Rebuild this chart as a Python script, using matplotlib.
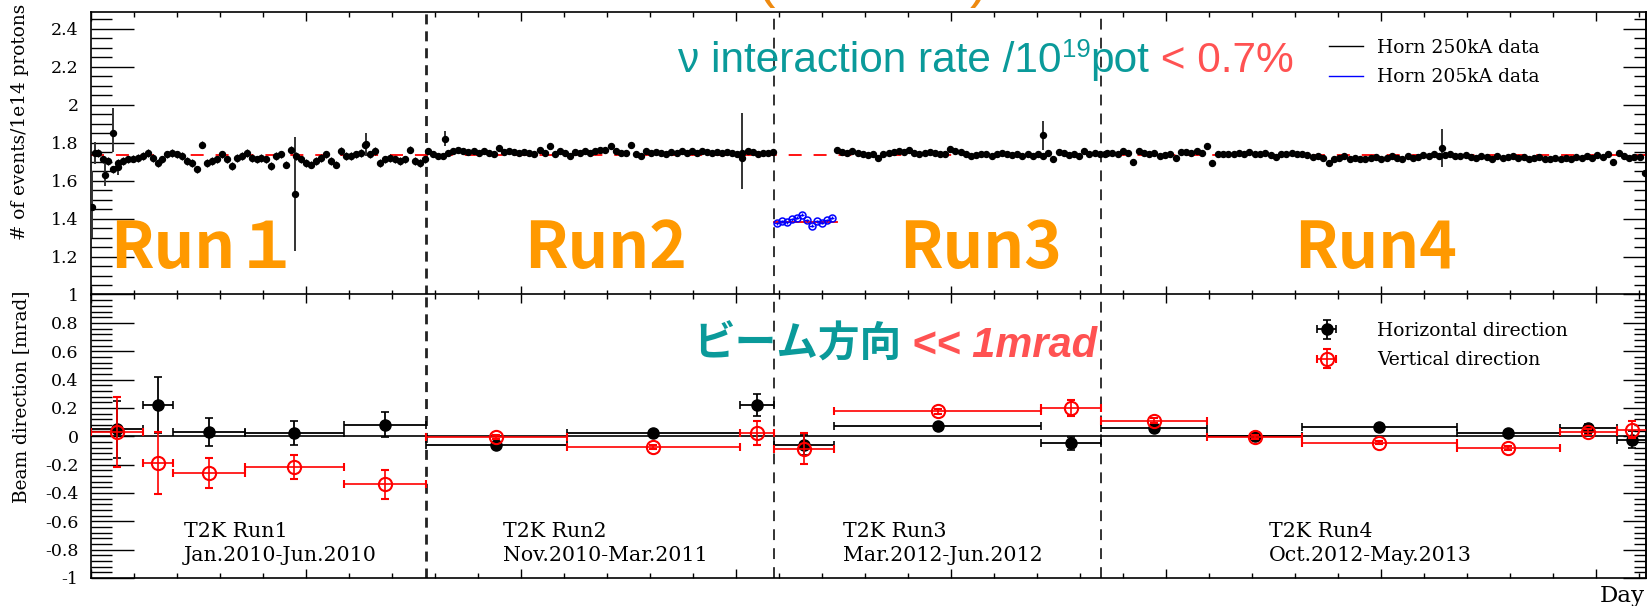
import numpy as np
import matplotlib
matplotlib.use("Agg")
import matplotlib.pyplot as plt
from matplotlib.ticker import MultipleLocator, FuncFormatter
from matplotlib.lines import Line2D

plt.rcParams['axes.unicode_minus'] = False
plt.rcParams['font.family'] = 'DejaVu Serif'

# ---------------- data ----------------
day_max = 723.3
run_bounds = [155.8, 317.7, 469.8]          # days of run boundaries
mean_rate_250 = 1.732
mean_rate_205 = 1.384

run1_days = (3.3, 155.3)
run1_rate = [1.746, 1.711, 1.702, 1.658, 1.693, 1.702, 1.711, 1.715, 1.719, 1.728, 1.746, 1.719,
             1.693, 1.711, 1.737, 1.746, 1.737, 1.728, 1.702, 1.693, 1.658, 1.789, 1.693, 1.702,
             1.711, 1.737, 1.711, 1.675, 1.719, 1.728, 1.746, 1.719, 1.711, 1.719, 1.711, 1.675,
             1.728, 1.737, 1.684, 1.763, 1.728, 1.711, 1.693, 1.684, 1.702, 1.719, 1.737, 1.702,
             1.684, 1.754, 1.728, 1.728, 1.737, 1.746, 1.789, 1.737, 1.754, 1.693, 1.711, 1.719,
             1.711, 1.702, 1.711, 1.763, 1.702, 1.693, 1.711]
run2_days = (156.7, 317.2)
run2_rate = [1.754, 1.737, 1.728, 1.728, 1.746, 1.754, 1.763, 1.754, 1.749, 1.754, 1.746, 1.754,
             1.746, 1.737, 1.772, 1.749, 1.754, 1.749, 1.746, 1.749, 1.746, 1.737, 1.763, 1.746,
             1.781, 1.737, 1.754, 1.746, 1.728, 1.749, 1.746, 1.754, 1.746, 1.754, 1.760, 1.763,
             1.781, 1.754, 1.746, 1.746, 1.789, 1.737, 1.728, 1.754, 1.746, 1.749, 1.746, 1.737,
             1.749, 1.746, 1.754, 1.746, 1.754, 1.746, 1.754, 1.749, 1.746, 1.749, 1.746, 1.749,
             1.746, 1.737, 1.719, 1.754, 1.749, 1.737, 1.746, 1.746, 1.749]
run3_days = (347.0, 471.6)
run3_rate = [1.763, 1.749, 1.746, 1.754, 1.746, 1.737, 1.732, 1.737, 1.719, 1.737, 1.746, 1.749,
             1.754, 1.749, 1.760, 1.746, 1.737, 1.746, 1.749, 1.746, 1.737, 1.742, 1.767, 1.754,
             1.749, 1.742, 1.728, 1.732, 1.737, 1.742, 1.728, 1.737, 1.746, 1.742, 1.732, 1.737,
             1.728, 1.737, 1.728, 1.737, 1.728, 1.746, 1.714, 1.749, 1.746, 1.732, 1.737, 1.728,
             1.754, 1.737, 1.746, 1.737, 1.742]
run4_days = (472.6, 722.8)
run4_rate = [1.746, 1.746, 1.737, 1.754, 1.746, 1.696, 1.754, 1.746, 1.737, 1.746, 1.728, 1.732,
             1.742, 1.719, 1.749, 1.749, 1.746, 1.754, 1.746, 1.784, 1.693, 1.737, 1.737, 1.742,
             1.737, 1.746, 1.737, 1.749, 1.737, 1.742, 1.746, 1.732, 1.725, 1.737, 1.742, 1.746,
             1.737, 1.742, 1.732, 1.725, 1.728, 1.719, 1.693, 1.711, 1.719, 1.728, 1.714, 1.719,
             1.711, 1.714, 1.719, 1.725, 1.714, 1.719, 1.728, 1.719, 1.714, 1.728, 1.719, 1.725,
             1.732, 1.728, 1.737, 1.728, 1.732, 1.737, 1.728, 1.728, 1.732, 1.725, 1.719, 1.728,
             1.725, 1.714, 1.728, 1.719, 1.725, 1.728, 1.719, 1.725, 1.714, 1.719, 1.725, 1.714,
             1.711, 1.719, 1.711, 1.719, 1.714, 1.725, 1.719, 1.728, 1.719, 1.732, 1.725, 1.737,
             1.696, 1.746, 1.728, 1.719, 1.725, 1.723, 1.640]
run_rate_err = [0.02, 0.01, 0.008, 0.008]

big_err_day = [0.5, 1.9, 6.5, 10.2, 12.6, 94.9, 127.9, 164.7, 302.8, 442.8, 628.4]
big_err_rate = [1.46, 1.745, 1.63, 1.85, 1.67, 1.53, 1.79, 1.82, 1.745, 1.84, 1.77]
big_err_lo = [0.16, 0.06, 0.06, 0.10, 0.04, 0.30, 0.06, 0.04, 0.19, 0.08, 0.10]
big_err_hi = [0.19, 0.06, 0.06, 0.13, 0.04, 0.30, 0.06, 0.04, 0.21, 0.075, 0.10]

horn205_days = (319.0, 344.6)
horn205_rate = [1.374, 1.386, 1.381, 1.395, 1.404, 1.421, 1.391, 1.363, 1.386, 1.377, 1.391, 1.404]

# beam direction (bins in days)
bin_edges = [0, 24.0, 38.1, 71.6, 117.7, 155.8, 221.4, 301.7, 317.7, 345.6, 441.9, 469.8,
             519.3, 563.3, 635.3, 683.3, 709.8, 724.0]
horiz = [0.05, 0.22, 0.03, 0.02, 0.08, -0.065, 0.02, 0.22, -0.06, 0.07, -0.05, 0.06,
         0.0, 0.065, 0.025, 0.055, -0.025]
horiz_err = [0.2, 0.2, 0.1, 0.085, 0.088, 0.012, 0.01, 0.08, 0.07, 0.01, 0.045, 0.012,
             0.01, 0.01, 0.01, 0.03, 0.06]
vert = [0.03, -0.19, -0.26, -0.215, -0.34, -0.005, -0.075, 0.02, -0.087, 0.175, 0.2, 0.11,
        -0.005, -0.045, -0.083, 0.03, 0.047]
vert_err = [0.245, 0.22, 0.105, 0.085, 0.1, 0.015, 0.012, 0.085, 0.11, 0.015, 0.058, 0.02,
            0.012, 0.012, 0.012, 0.02, 0.06]

run_names = ["Run１", "Run2", "Run3", "Run4"]
period_labels = ["T2K Run1", "T2K Run2", "T2K Run3", "T2K Run4"]
period_dates = ["Jan.2010-Jun.2010", "Nov.2010-Mar.2011", "Mar.2012-Jun.2012", "Oct.2012-May.2013"]

# ---------------- figure ----------------
W, H = 1648, 606
fig = plt.figure(figsize=(W / 100, H / 100), dpi=100)
fx = lambda px: px / W
fy = lambda py: 1 - py / H
L, R = 91, 1646
ymid = 294.5
ax1 = fig.add_axes([fx(L), fy(ymid), (R - L) / W, (ymid - 12) / H])
ax2 = fig.add_axes([fx(L), fy(578), (R - L) / W, (578 - ymid) / H])

teal = '#0A9A9A'
redtxt = '#FF5252'
orange = '#FF9900'

def fmt_top(v, pos):
    return '' if abs(v - 1) < 1e-6 else '%g' % round(v, 3)

def fmt_bot(v, pos):
    return '%g' % round(v, 3)

for ax, (y0, y1), ymin, fmt in ((ax1, (1, 1 + (ymid - 12) / 190), 0.05, fmt_top),
                                 (ax2, (-1, 1), 0.04, fmt_bot)):
    ax.set_xlim(0, day_max)
    ax.set_ylim(y0, y1)
    ax.xaxis.set_major_locator(MultipleLocator(100))
    ax.xaxis.set_minor_locator(MultipleLocator(20))
    ax.yaxis.set_major_locator(MultipleLocator(0.2))
    ax.yaxis.set_minor_locator(MultipleLocator(ymin))
    ax.yaxis.set_major_formatter(FuncFormatter(fmt))
    ax.tick_params(axis='x', which='both', direction='in', top=True, bottom=True,
                   labelbottom=False, width=1.0)
    ax.tick_params(axis='x', which='major', length=6.5)
    ax.tick_params(axis='x', which='minor', length=3.3)
    ax.tick_params(axis='y', which='both', direction='in', left=True, right=False, width=1.0)
    ax.tick_params(axis='y', which='major', length=31, labelsize=12.5, pad=9)
    ax.tick_params(axis='y', which='minor', length=15)
    for s in ax.spines.values():
        s.set_linewidth(1.2)
    sec = ax.secondary_yaxis('right')
    sec.yaxis.set_major_locator(MultipleLocator(0.2))
    sec.yaxis.set_minor_locator(MultipleLocator(ymin))
    sec.tick_params(axis='y', which='both', direction='in', labelright=False, width=1.0)
    sec.tick_params(axis='y', which='major', length=16.5)
    sec.tick_params(axis='y', which='minor', length=8.5)
    sec.spines['right'].set_linewidth(1.2)
    # run boundaries
    for i, b in enumerate(run_bounds):
        if i == 0:
            ax.axvline(b, color='#222222', lw=2.0, ls=(0, (3.6, 2.5)), zorder=1)
        else:
            ax.axvline(b, color='#222222', lw=1.3, ls=(0, (6, 4.5)), zorder=1)

# ---- top panel ----
ax1.axhline(mean_rate_250, color='red', lw=1.3, ls=(0, (7.2, 6.6)), zorder=1.5)
for (d0, d1), vals, err in zip([run1_days, run2_days, run3_days, run4_days],
                               [run1_rate, run2_rate, run3_rate, run4_rate], run_rate_err):
    xs = np.linspace(d0, d1, len(vals))
    ax1.errorbar(xs, vals, yerr=err, fmt='o', ms=4.3, color='black', elinewidth=0.9,
                 capsize=0, zorder=3)
ax1.errorbar(big_err_day, big_err_rate, yerr=[big_err_lo, big_err_hi], fmt='o', ms=4.3,
             color='black', ecolor='#333333', elinewidth=1.4, capsize=0, zorder=3)
x205 = np.linspace(horn205_days[0], horn205_days[1], len(horn205_rate))
ax1.plot([run_bounds[1], run3_days[0]], [mean_rate_205] * 2, color='red', lw=1.3, zorder=1.5)
ax1.errorbar(x205, horn205_rate, xerr=1.1, yerr=0.008, fmt='o', ms=5, mfc='none', mec='blue',
             mew=1.1, color='blue', elinewidth=1.0, capsize=0, zorder=3)

ax1.legend(handles=[Line2D([], [], color='black', lw=1.0),
                    Line2D([], [], color='blue', lw=1.0)],
           labels=['Horn 250kA data', 'Horn 205kA data'],
           loc='upper left', bbox_to_anchor=(fx(1329), fy(39)),
           bbox_transform=fig.transFigure, frameon=False, fontsize=13.5,
           handlelength=1.8, handletextpad=0.75, borderpad=0, borderaxespad=0,
           labelspacing=0.6)

# ---- bottom panel ----
edges = np.array(bin_edges)
centers = (edges[:-1] + edges[1:]) / 2
halfw = (edges[1:] - edges[:-1]) / 2
ax2.axhline(0, color='black', lw=1.2, zorder=1)
eh = ax2.errorbar(centers, horiz, xerr=halfw, yerr=horiz_err, fmt='o', ms=8, color='black',
                  elinewidth=1.3, capsize=3, capthick=1.2, zorder=3)
ev = ax2.errorbar(centers, vert, xerr=halfw, yerr=vert_err, fmt='o', ms=9.5, mfc='none',
                  mec='red', mew=1.5, color='red', elinewidth=1.2, capsize=3, capthick=1.1,
                  zorder=4)
ax2.legend(handles=[eh, ev], labels=['Horizontal direction', 'Vertical direction'],
           loc='upper left', bbox_to_anchor=(fx(1291), fy(322)),
           bbox_transform=fig.transFigure, frameon=False, fontsize=13.5,
           handlelength=3.8, handletextpad=0.8, borderpad=0, borderaxespad=0,
           labelspacing=0.6)

# ---- texts ----
fig.text(fx(20), fy(121.5), '# of events/1e14 protons', rotation=90, ha='center', va='center',
         fontsize=13.3)
fig.text(fx(21), fy(396.5), 'Beam direction [mrad]', rotation=90, ha='center', va='center',
         fontsize=13.3)
fig.text(fx(1645), fy(602), 'Day', ha='right', va='baseline', fontsize=16.5)

for px, lab, dat in zip([184, 503, 843, 1269], period_labels, period_dates):
    fig.text(fx(px), fy(537), lab, ha='left', va='baseline', fontsize=14.8)
    fig.text(fx(px), fy(561), dat, ha='left', va='baseline', fontsize=14.8)

run_px = [110, 606, 981, 1376]
for i, (px, name) in enumerate(zip(run_px, run_names)):
    fig.text(fx(px), fy(268), name, ha='left' if i == 0 else 'center', va='baseline',
             fontsize=46, fontweight='bold', color=orange,
             family=['Noto Sans CJK JP', 'DejaVu Sans'])

sans = 'Liberation Sans'
t1 = fig.text(fx(678), fy(72), 'ν interaction rate /10', fontsize=30.5, family=sans,
              color=teal, va='baseline')
t19 = ax1.annotate('19', xy=(1, fy(57)), xycoords=(t1, 'figure fraction'), fontsize=18.5,
                   family=sans, color=teal, va='baseline', ha='left')
tpot = ax1.annotate('pot', xy=(1, fy(72)), xycoords=(t19, 'figure fraction'), fontsize=30.5,
                    family=sans, color=teal, va='baseline', ha='left')
ax1.annotate(' < 0.7%', xy=(1, fy(72)), xycoords=(tpot, 'figure fraction'), fontsize=30.5,
             family=sans, color=redtxt, va='baseline', ha='left')

fig.text(fx(693), fy(357), 'ビーム方向', fontsize=30, fontweight='bold', color=teal,
         family=['Noto Sans CJK JP', 'DejaVu Sans'], va='baseline')
fig.text(fx(912), fy(357), '<< 1mrad', fontsize=30, fontweight='bold', fontstyle='italic',
         color=redtxt, family=sans, va='baseline')

# cut-off orange title brackets at the very top (as in the reference)
fig.text(fx(757), fy(-4), '(', fontsize=40, color='#EE8A10', family=sans, va='baseline')
fig.text(fx(970), fy(-4), ')', fontsize=40, color='#EE8A10', family=sans, va='baseline')

fig.savefig('out.png', dpi=100)
